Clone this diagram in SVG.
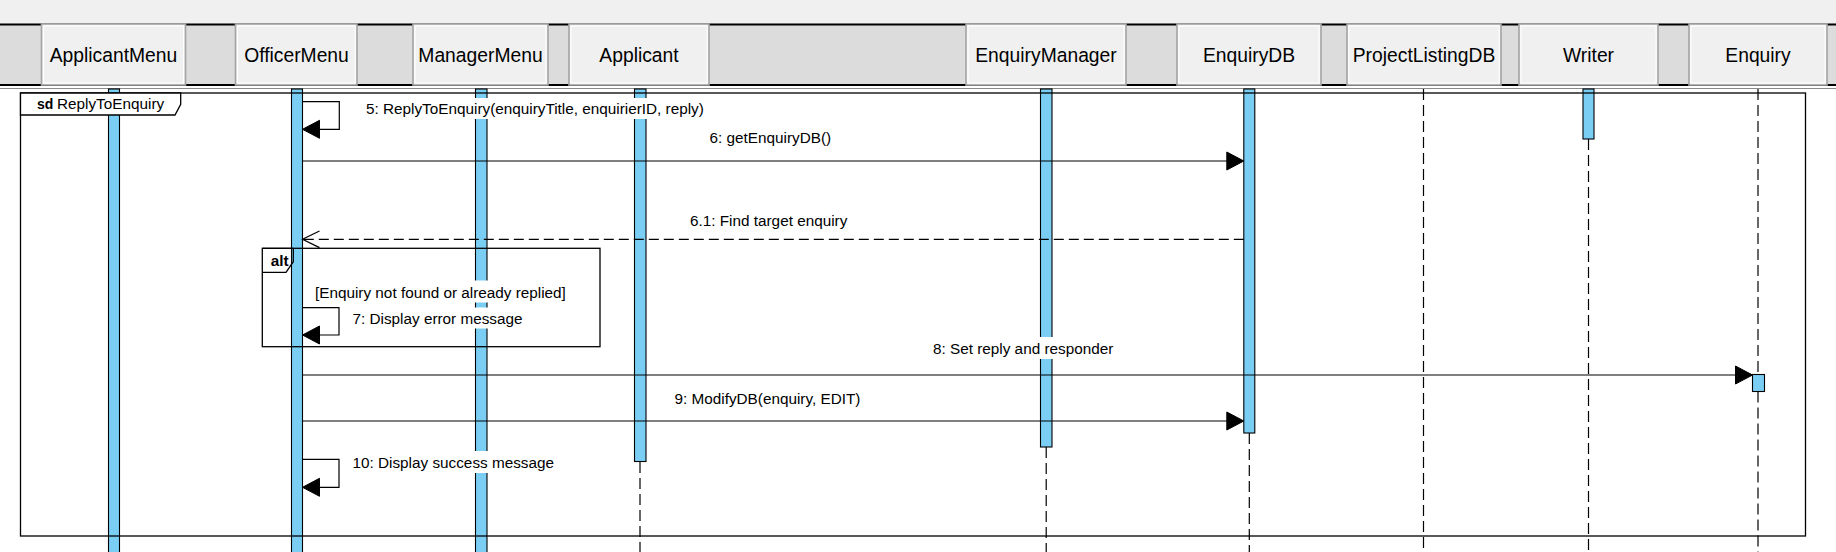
<svg xmlns="http://www.w3.org/2000/svg" width="1836" height="552" viewBox="0 0 1836 552">
<defs>
<style>
.hdr{font-family:"Liberation Sans",Arial,sans-serif;font-size:19.3px;text-anchor:middle;fill:#000}
.lbl{font-family:"Liberation Sans",Arial,sans-serif;font-size:15.3px;fill:#000}
.bold{font-weight:bold}
.box{fill:#f0f0f0;stroke:#a4a4a4;stroke-width:1.6}
.boxin{fill:none;stroke:#ffffff;stroke-width:1}
.act{fill:#7acef4;stroke:#000;stroke-width:1.1}
.life{stroke:#000;stroke-width:1.2;stroke-dasharray:11 5;fill:none}
.msg{stroke:#000;stroke-width:1.2;fill:none}
.ret{stroke:#000;stroke-width:1.2;fill:none;stroke-dasharray:10 5}
.head{fill:#000;stroke:#000;stroke-width:1}
.lbg{fill:#fff}
.frame{fill:none;stroke:#000;stroke-width:1.3}
.tab{fill:#fff;stroke:#000;stroke-width:1.3}
</style>
</defs>
<rect width="1836" height="552" fill="#fff"/>
<g id="header-band">
<rect x="0" y="0" width="1836" height="23.5" fill="#f0f0f0"/>
<rect x="0" y="23.5" width="1836" height="62.5" fill="#dcdcdc"/>
<line x1="0" y1="24.5" x2="1836" y2="24.5" stroke="#000" stroke-width="2"/>
<line x1="0" y1="85" x2="1836" y2="85" stroke="#000" stroke-width="2"/>
<line x1="0" y1="88.5" x2="1836" y2="88.5" stroke="#8a8a8a" stroke-width="1"/>
</g>
<g id="node-ApplicantMenu">
<rect class="box" x="41.5" y="24" width="144" height="61"/>
<rect class="boxin" x="43.5" y="26" width="140" height="57"/>
<text class="hdr" x="113.5" y="61.7">ApplicantMenu</text>
<rect class="act" x="108.5" y="89" width="11" height="470"/>
</g>
<g id="node-OfficerMenu">
<rect class="box" x="235.5" y="24" width="121.5" height="61"/>
<rect class="boxin" x="237.5" y="26" width="117.5" height="57"/>
<text class="hdr" x="296.5" y="61.7">OfficerMenu</text>
<rect class="act" x="291.5" y="89" width="11" height="470"/>
</g>
<g id="node-ManagerMenu">
<rect class="box" x="413" y="24" width="135" height="61"/>
<rect class="boxin" x="415" y="26" width="131" height="57"/>
<text class="hdr" x="480.5" y="61.7">ManagerMenu</text>
<rect class="act" x="475.5" y="89" width="11.5" height="470"/>
</g>
<g id="node-Applicant">
<rect class="box" x="569" y="24" width="140" height="61"/>
<rect class="boxin" x="571" y="26" width="136" height="57"/>
<text class="hdr" x="639" y="61.7">Applicant</text>
<rect class="act" x="634.5" y="89" width="11.5" height="372.5"/>
<line class="life" x1="640" y1="462" x2="640" y2="552"/>
</g>
<g id="node-EnquiryManager">
<rect class="box" x="966" y="24" width="160" height="61"/>
<rect class="boxin" x="968" y="26" width="156" height="57"/>
<text class="hdr" x="1046" y="61.7">EnquiryManager</text>
<rect class="act" x="1040.5" y="89" width="11.5" height="358"/>
<line class="life" x1="1046.2" y1="447" x2="1046.2" y2="552"/>
</g>
<g id="node-EnquiryDB">
<rect class="box" x="1177" y="24" width="144" height="61"/>
<rect class="boxin" x="1179" y="26" width="140" height="57"/>
<text class="hdr" x="1249" y="61.7">EnquiryDB</text>
<rect class="act" x="1243.8" y="89" width="11" height="344"/>
<line class="life" x1="1249.3" y1="433" x2="1249.3" y2="552"/>
</g>
<g id="node-ProjectListingDB">
<rect class="box" x="1347" y="24" width="154" height="61"/>
<rect class="boxin" x="1349" y="26" width="150" height="57"/>
<text class="hdr" x="1424" y="61.7">ProjectListingDB</text>
<line class="life" x1="1423.5" y1="89" x2="1423.5" y2="552"/>
</g>
<g id="node-Writer">
<rect class="box" x="1519" y="24" width="139" height="61"/>
<rect class="boxin" x="1521" y="26" width="135" height="57"/>
<text class="hdr" x="1588.5" y="61.7">Writer</text>
<rect class="act" x="1583" y="89" width="11" height="50"/>
<line class="life" x1="1588.5" y1="139" x2="1588.5" y2="552"/>
</g>
<g id="node-Enquiry">
<rect class="box" x="1689" y="24" width="138" height="61"/>
<rect class="boxin" x="1691" y="26" width="134" height="57"/>
<text class="hdr" x="1758" y="61.7">Enquiry</text>
<line class="life" x1="1758" y1="89" x2="1758" y2="374.5"/>
<line class="life" x1="1758" y1="391.5" x2="1758" y2="552"/>
<rect class="act" x="1752.5" y="374.5" width="12" height="17"/>
</g>
<g id="frame-sd">
<rect class="frame" x="20.5" y="93" width="1785" height="443"/>
<path class="tab" d="M20.5,93 H180.7 V104.3 L175,115 H20.5 Z"/>
<text class="lbl bold" x="37" y="109" style="font-size:14px">sd</text>
<text class="lbl" x="57" y="109">ReplyToEnquiry</text>
</g>
<g id="frame-alt">
<rect class="frame" x="262.3" y="248.3" width="337.7" height="98.4"/>
<path class="frame" d="M262.3,248.3 H293.3 V261.7 L286,272.3 H262.3"/>
<text class="lbl bold" x="270.7" y="266">alt</text>
<rect class="lbg" x="313" y="280.5" width="256" height="22"/>
<text class="lbl" x="315" y="297.5">[Enquiry not found or already replied]</text>
</g>
<g id="connectors">
<path class="msg" d="M302.5,101.7 H339.3 V129.3 H318"/>
<polygon class="head" points="302.5,129.3 319.5,120.3 319.5,138.3"/>
<rect class="lbg" x="364" y="98" width="345" height="21"/>
<text class="lbl" x="366" y="114">5: ReplyToEnquiry(enquiryTitle, enquirierID, reply)</text>

<line class="msg" x1="302.5" y1="161" x2="1228" y2="161"/>
<polygon class="head" points="1243.8,161 1226.8,152 1226.8,170"/>
<rect class="lbg" x="707.6" y="127" width="126" height="21"/>
<text class="lbl" x="709.6" y="143">6: getEnquiryDB()</text>

<line class="ret" x1="1243.8" y1="239.3" x2="303" y2="239.3"/>
<path class="msg" d="M319.5,231 L302.5,239.3 L319.5,247.6"/>
<rect class="lbg" x="688" y="210" width="161" height="21"/>
<text class="lbl" x="690" y="226">6.1: Find target enquiry</text>

<path class="msg" d="M302.5,307.7 H339 V335 H318"/>
<polygon class="head" points="302.5,335 319.5,326 319.5,344"/>
<rect class="lbg" x="350.5" y="307.5" width="174" height="21"/>
<text class="lbl" x="352.5" y="324">7: Display error message</text>

<line class="msg" x1="302.5" y1="375" x2="1737" y2="375"/>
<polygon class="head" points="1752.5,375 1735.5,366 1735.5,384"/>
<rect class="lbg" x="931" y="337" width="185" height="22"/>
<text class="lbl" x="933" y="354">8: Set reply and responder</text>

<line class="msg" x1="302.5" y1="421" x2="1228" y2="421"/>
<polygon class="head" points="1243.8,421 1226.8,412 1226.8,430"/>
<rect class="lbg" x="672.5" y="388" width="192" height="21"/>
<text class="lbl" x="674.5" y="404">9: ModifyDB(enquiry, EDIT)</text>

<path class="msg" d="M302.5,459.3 H339 V487.3 H318"/>
<polygon class="head" points="302.5,487.3 319.5,478.3 319.5,496.3"/>
<rect class="lbg" x="350.5" y="451" width="206" height="22"/>
<text class="lbl" x="352.5" y="468">10: Display success message</text>
</g>
</svg>
